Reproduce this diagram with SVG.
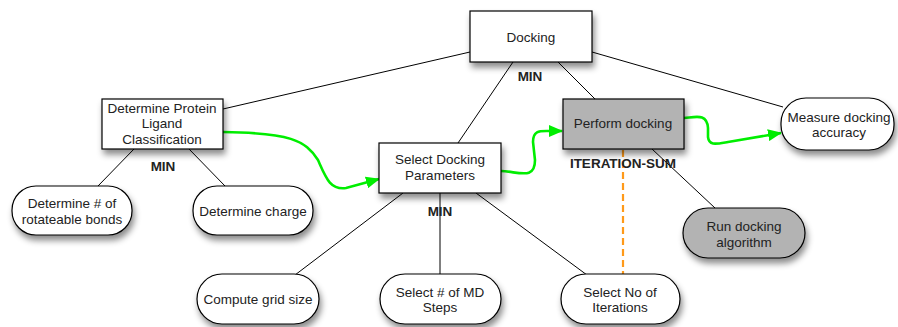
<svg xmlns="http://www.w3.org/2000/svg" width="898" height="327" viewBox="0 0 898 327">
<style>
.box{fill:#ffffff;stroke:#000;stroke-width:1.2;filter:url(#sh)}
.gray{fill:#b3b3b3}
.t{font-family:"Liberation Sans",Arial,sans-serif;font-size:13.5px;fill:#222;text-anchor:middle}
.lab{font-family:"Liberation Sans",Arial,sans-serif;font-size:13.5px;font-weight:bold;fill:#222;text-anchor:middle}
.ln{stroke:#000;stroke-width:1;fill:none}
.gr{stroke:#00ee00;stroke-width:2.6;fill:none;marker-end:url(#ah)}
.or{stroke:#ff9a1a;stroke-width:2.2;stroke-dasharray:7,4;fill:none}
</style>
<defs>
<filter id="sh" x="-20%" y="-20%" width="140%" height="160%">
<feDropShadow dx="2" dy="5" stdDeviation="3" flood-color="#000" flood-opacity="0.45"/>
</filter>
<marker id="ah" markerWidth="14" markerHeight="12" refX="13" refY="6" orient="auto" markerUnits="userSpaceOnUse">
<path d="M0,0 L14,6 L0,12 Z" fill="#00ee00"/>
</marker>
</defs>
<g id="connectors">
<line class="ln" x1="470" y1="52" x2="223" y2="109"/>
<line class="ln" x1="513" y1="62" x2="458" y2="143"/>
<line class="ln" x1="558" y1="62" x2="595" y2="99"/>
<line class="ln" x1="592" y1="52" x2="783" y2="107"/>
<line class="ln" x1="134" y1="149" x2="98" y2="186"/>
<line class="ln" x1="189" y1="149" x2="225" y2="186"/>
<line class="ln" x1="403" y1="193" x2="295" y2="275"/>
<line class="ln" x1="440" y1="193" x2="440" y2="274"/>
<line class="ln" x1="476" y1="193" x2="587" y2="275"/>
<line class="ln" x1="652" y1="149" x2="715" y2="208"/>
<line class="or" x1="623" y1="150" x2="623" y2="274"/>
<path class="gr" d="M223,132 C290,133 305,140 318,160 C326,178 330,190 346,188 L379,179"/>
<path class="gr" d="M501,171 C520,172 535,180 535,160 L533,142 C533,130 540,131 549,131 L562,131"/>
<path class="gr" d="M684,118 C696,117 707,113 708,128 L708,137 C709,146 716,144 728,142 L781,133"/>
</g>
<g id="docking">
<rect class="box" x="470" y="11" width="122" height="51"/>
<text class="t" x="531" y="42">Docking</text>
</g>
<g id="docking-min"><text class="lab" x="530" y="81">MIN</text></g>
<g id="determine-protein">
<rect class="box" x="102" y="99" width="121" height="50"/>
<text class="t" x="162" y="113">Determine Protein</text>
<text class="t" x="162" y="128">Ligand</text>
<text class="t" x="162" y="144">Classification</text>
</g>
<g id="protein-min"><text class="lab" x="163" y="171">MIN</text></g>
<g id="select-docking">
<rect class="box" x="379" y="143" width="122" height="50"/>
<text class="t" x="440" y="164">Select Docking</text>
<text class="t" x="440" y="180">Parameters</text>
</g>
<g id="select-min"><text class="lab" x="440" y="216">MIN</text></g>
<g id="perform-docking">
<rect class="box gray" x="563" y="99" width="121" height="50"/>
<text class="t" x="623" y="128">Perform docking</text>
</g>
<g id="iteration-sum"><text class="lab" x="623" y="168">ITERATION-SUM</text></g>
<g id="measure-accuracy">
<rect class="box" x="781" y="98" width="113" height="52" rx="25" ry="25"/>
<text class="t" x="839" y="122">Measure docking</text>
<text class="t" x="839" y="137">accuracy</text>
</g>
<g id="run-algorithm">
<rect class="box gray" x="683" y="208" width="122" height="50" rx="25" ry="25"/>
<text class="t" x="744" y="231">Run docking</text>
<text class="t" x="744" y="247">algorithm</text>
</g>
<g id="rotateable-bonds">
<rect class="box" x="12" y="186" width="120" height="49" rx="24" ry="24"/>
<text class="t" x="72" y="208">Determine # of</text>
<text class="t" x="72" y="224">rotateable bonds</text>
</g>
<g id="determine-charge">
<rect class="box" x="193" y="186" width="120" height="49" rx="24" ry="24"/>
<text class="t" x="253" y="216">Determine charge</text>
</g>
<g id="grid-size">
<rect class="box" x="197" y="274" width="122" height="50" rx="25" ry="25"/>
<text class="t" x="258" y="304">Compute grid size</text>
</g>
<g id="md-steps">
<rect class="box" x="380" y="274" width="121" height="50" rx="25" ry="25"/>
<text class="t" x="440" y="297">Select # of MD</text>
<text class="t" x="440" y="312">Steps</text>
</g>
<g id="iterations">
<rect class="box" x="561" y="274" width="119" height="50" rx="25" ry="25"/>
<text class="t" x="620" y="297">Select No of</text>
<text class="t" x="620" y="312">Iterations</text>
</g>
</svg>
